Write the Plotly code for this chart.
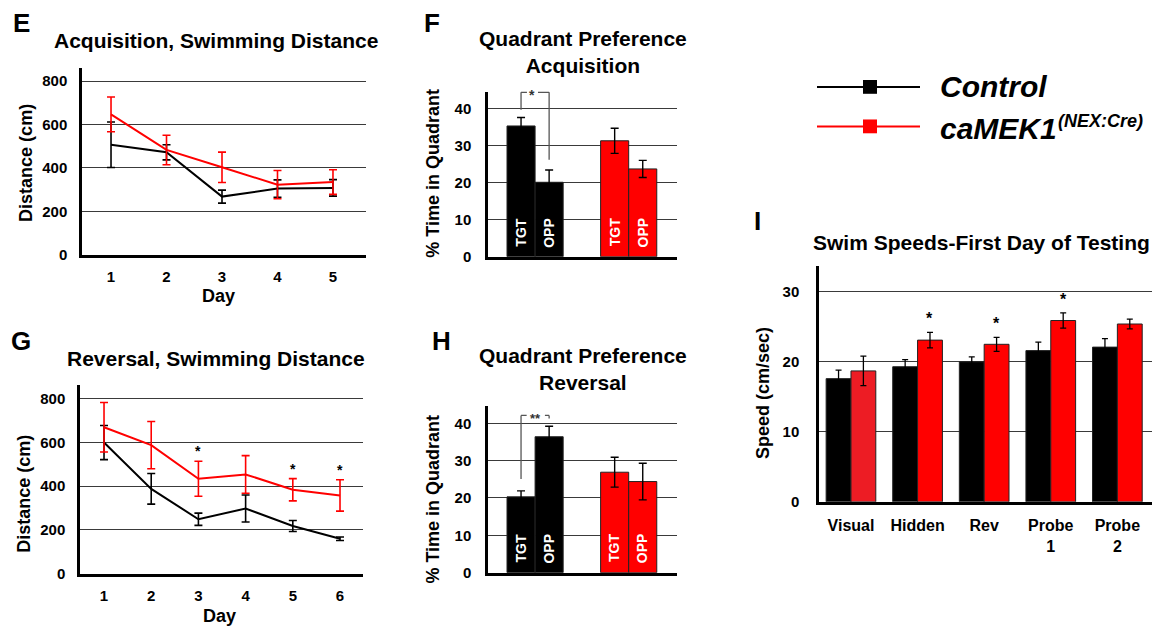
import plotly.graph_objects as go

# ---------------- data ----------------
# Panel E: Acquisition, swimming distance (cm)
acq_days = [1, 2, 3, 4, 5]
acq_ctrl = [507, 472, 268, 305, 308]
acq_ctrl_err = [105, 35, 30, 40, 38]
acq_mek = [647, 483, 403, 323, 335]
acq_mek_err = [80, 68, 70, 65, 57]

# Panel G: Reversal, swimming distance (cm)
rev_days = [1, 2, 3, 4, 5, 6]
rev_ctrl = [600, 388, 249, 298, 218, 160]
rev_ctrl_err = [78, 70, 28, 62, 25, 8]
rev_mek = [670, 588, 434, 454, 384, 358]
rev_mek_err = [113, 108, 80, 86, 51, 72]
rev_sig_days = [3, 5, 6]

# Panels F / H: quadrant preference (% time)
genotypes = ["Control", "caMEK1"]
quad_labels = ["TGT", "OPP"]
acq_tgt = [35.3, 31.3]
acq_tgt_err = [2.3, 3.4]
acq_opp = [20.1, 23.7]
acq_opp_err = [3.3, 2.3]
revq_tgt = [20.3, 26.9]
revq_tgt_err = [1.6, 4.0]
revq_opp = [36.4, 24.4]
revq_opp_err = [2.8, 4.9]

# Panel I: swim speeds (cm/sec)
speed_cats = ["Visual", "Hidden", "Rev", "Probe<br>1", "Probe<br>2"]
speed_ctrl = [17.6, 19.3, 20.0, 21.6, 22.1]
speed_ctrl_err = [1.2, 1.0, 0.7, 1.2, 1.2]
speed_mek = [18.7, 23.1, 22.5, 25.9, 25.4]
speed_mek_err = [2.1, 1.1, 1.0, 1.1, 0.7]
speed_sig = [False, True, True, True, False]

# ---------------- style ----------------
W, H = 1156, 632
FONT = "Liberation Sans, Arial, sans-serif"
BLACK = "#000000"
RED = "#FF0000"
RED2 = "#ED1C24"
GRID = "#3a3a3a"


def fx(px):
    return px / W


def fy(py):
    return 1 - py / H


fig = go.Figure()

# ---- E
fig.add_trace(go.Scatter(x=acq_days, y=acq_ctrl, mode="lines",
                         line=dict(color=BLACK, width=2),
                         error_y=dict(type="data", array=acq_ctrl_err, color=BLACK, thickness=1.6, width=4),
                         xaxis="x", yaxis="y", showlegend=False))
fig.add_trace(go.Scatter(x=acq_days, y=acq_mek, mode="lines",
                         line=dict(color=RED, width=2),
                         error_y=dict(type="data", array=acq_mek_err, color=RED, thickness=1.6, width=4),
                         xaxis="x", yaxis="y", showlegend=False))
# ---- G
fig.add_trace(go.Scatter(x=rev_days, y=rev_ctrl, mode="lines",
                         line=dict(color=BLACK, width=2),
                         error_y=dict(type="data", array=rev_ctrl_err, color=BLACK, thickness=1.6, width=4),
                         xaxis="x3", yaxis="y3", showlegend=False))
fig.add_trace(go.Scatter(x=rev_days, y=rev_mek, mode="lines",
                         line=dict(color=RED, width=2),
                         error_y=dict(type="data", array=rev_mek_err, color=RED, thickness=1.6, width=4),
                         xaxis="x3", yaxis="y3", showlegend=False))

# ---- F / H bars
QW = 0.3
geno_colors = [BLACK, RED]
for (tgt, tgt_e, opp, opp_e, xa, ya) in [
        (acq_tgt, acq_tgt_err, acq_opp, acq_opp_err, "x2", "y2"),
        (revq_tgt, revq_tgt_err, revq_opp, revq_opp_err, "x4", "y4")]:
    fig.add_trace(go.Bar(x=genotypes, y=tgt, width=QW, offset=-QW,
                         marker=dict(color=geno_colors, line=dict(color="#222", width=1)),
                         error_y=dict(type="data", array=tgt_e, color=BLACK, thickness=1.4, width=4),
                         xaxis=xa, yaxis=ya, showlegend=False))
    fig.add_trace(go.Bar(x=genotypes, y=opp, width=QW, offset=0,
                         marker=dict(color=geno_colors, line=dict(color="#222", width=1)),
                         error_y=dict(type="data", array=opp_e, color=BLACK, thickness=1.4, width=4),
                         xaxis=xa, yaxis=ya, showlegend=False))

# ---- I bars
BW = 0.373
fig.add_trace(go.Bar(x=speed_cats, y=speed_ctrl, width=BW, offset=-BW,
                     marker=dict(color=BLACK, line=dict(color="#222", width=1)),
                     error_y=dict(type="data", array=speed_ctrl_err, color=BLACK, thickness=1.3, width=3),
                     xaxis="x5", yaxis="y5", showlegend=False))
fig.add_trace(go.Bar(x=speed_cats, y=speed_mek, width=BW, offset=0,
                     marker=dict(color=[RED2] + [RED] * (len(speed_mek) - 1), line=dict(color="#222", width=1)),
                     error_y=dict(type="data", array=speed_mek_err, color=BLACK, thickness=1.3, width=3),
                     xaxis="x5", yaxis="y5", showlegend=False))

fig.update_layout(barmode="overlay")

tickfont = dict(family=FONT, size=15, color=BLACK, weight="bold")


def xax(left, right, rng, anchor, **kw):
    d = dict(domain=[fx(left), fx(right)], range=rng, anchor=anchor,
             showline=True, linecolor=BLACK, linewidth=2.5, showgrid=False,
             zeroline=False, ticks="", tickfont=tickfont, fixedrange=True)
    d.update(kw)
    return d


def yax(bottom, top, rng, anchor, dtick, **kw):
    d = dict(domain=[fy(bottom), fy(top)], range=rng, anchor=anchor,
             showline=True, linecolor=BLACK, linewidth=2.5, showgrid=True,
             gridcolor=GRID, gridwidth=1.2, zeroline=False, ticks="",
             dtick=dtick, tick0=0, tickfont=tickfont, ticklabelstandoff=9,
             fixedrange=True)
    d.update(kw)
    return d


fig.update_layout(
    xaxis=xax(82, 366, [0.477, 5.595], "y", tickvals=acq_days, ticklabelstandoff=7),
    yaxis=yax(258, 69, [0, 860], "x", 200),
    xaxis3=xax(80, 363, [0.491, 6.487], "y3", tickvals=rev_days, ticklabelstandoff=7),
    yaxis3=yax(581, 390, [0, 863], "x3", 200),
    xaxis2=xax(488, 677, [-0.503, 1.516], "y2", showticklabels=False, type="category"),
    yaxis2=yax(260, 92.7, [0, 44.6], "x2", 10, ticklabelstandoff=11),
    xaxis4=xax(488, 677, [-0.503, 1.516], "y4", showticklabels=False, type="category"),
    yaxis4=yax(580, 411.7, [0, 44.5], "x4", 10, ticklabelstandoff=11),
    xaxis5=xax(819, 1152, [-0.48, 4.52], "y5", type="category",
               tickfont=dict(family=FONT, size=16, color=BLACK, weight="bold"), ticklabelstandoff=7),
    yaxis5=yax(508.3, 269.3, [0, 33.7], "x5", 10, ticklabelstandoff=14),
)

annotations = []
shapes = []


def txt(x, y, text, size, xref="paper", yref="paper", xanchor="center", yanchor="middle",
        angle=0, color=BLACK, bold=True, italic=False, yshift=0):
    annotations.append(dict(x=x, y=y, xref=xref, yref=yref, text=text, showarrow=False,
                            xanchor=xanchor, yanchor=yanchor, textangle=angle, yshift=yshift,
                            font=dict(family=FONT, size=size, color=color,
                                      weight="bold" if bold else "normal",
                                      style="italic" if italic else "normal")))


# panel letters
for letter, px, py in [("E", 21, 23), ("F", 432, 23), ("G", 21, 345), ("H", 442, 345), ("I", 757, 224)]:
    txt(fx(px), fy(py), letter, 26)

# titles
txt(fx(216), fy(41), "Acquisition, Swimming Distance", 21)
txt(fx(216), fy(363), "Reversal, Swimming Distance", 21)
txt(fx(583), fy(53), "Quadrant Preference<br>Acquisition", 21)
txt(fx(583), fy(374), "Quadrant Preference<br>Reversal", 21)
txt(fx(981), fy(246), "Swim Speeds-First Day of Testing", 21)

# axis titles
txt(fx(26), fy(165), "Distance (cm)", 18, angle=-90)
txt(fx(218), fy(300), "Day", 18)
txt(fx(24), fy(500), "Distance (cm)", 18, angle=-90)
txt(fx(219), fy(624), "Day", 18)
txt(fx(433), fy(176), "% Time in Quadrant", 18, angle=-90)
txt(fx(433), fy(506), "% Time in Quadrant", 18, angle=-90)
txt(fx(763), fy(398), "Speed (cm/sec)", 18, angle=-90)

# TGT / OPP labels inside bars
for xa, ya in [("x2", "y2"), ("x4", "y4")]:
    for gi in range(len(genotypes)):
        for qi, lab in enumerate(quad_labels):
            txt(gi - QW / 2 + qi * QW, 6.5, lab, 14, xref=xa, yref=ya, angle=-90, color="white")

# significance stars, panel G
for d in rev_sig_days:
    i = rev_days.index(d)
    txt(d, rev_mek[i] + rev_mek_err[i], "*", 14, xref="x3", yref="y3", yanchor="bottom")

# significance stars, panel I
for i, s in enumerate(speed_sig):
    if s:
        txt(i + BW / 2, speed_mek[i] + speed_mek_err[i], "*", 16, xref="x5", yref="y5",
            yanchor="bottom", yshift=3)


# brackets on F and H
def bracket(xa, ya, y_left, y_right, y_top, x_gap_l, x_gap_r, star, star_size):
    xl, xr = -QW / 2, QW / 2
    sty = dict(color="#555", width=1.3)
    shapes.append(dict(type="line", xref=xa, yref=ya, x0=xl, x1=xl, y0=y_left, y1=y_top, line=sty))
    shapes.append(dict(type="line", xref=xa, yref=ya, x0=xl, x1=x_gap_l, y0=y_top, y1=y_top, line=sty))
    shapes.append(dict(type="line", xref=xa, yref=ya, x0=x_gap_r, x1=xr, y0=y_top, y1=y_top, line=sty))
    shapes.append(dict(type="line", xref=xa, yref=ya, x0=xr, x1=xr, y0=y_right, y1=y_top, line=sty))
    txt((x_gap_l + x_gap_r) / 2, y_top, star, star_size, xref=xa, yref=ya, yshift=-3, color="#333")


bracket("x2", "y2", acq_tgt[0] + acq_tgt_err[0] + 2.1, acq_opp[0] + acq_opp_err[0] + 2.8, 44.4,
        -0.087, 0.031, "*", 14)
bracket("x4", "y4", revq_tgt[0] + revq_tgt_err[0] + 3.2, revq_opp[0] + revq_opp_err[0] + 2.1, 42.1,
        -0.09, 0.105, "**", 13)

# legend (drawn by hand)
for py, col, label in [(88, BLACK, "Control"), (128, RED, "caMEK1")]:
    shapes.append(dict(type="line", xref="paper", yref="paper", x0=fx(817), x1=fx(920),
                       y0=fy(py), y1=fy(py), line=dict(color=col, width=2)))
    shapes.append(dict(type="rect", xref="paper", yref="paper", x0=fx(863), x1=fx(877),
                       y0=fy(py + 7), y1=fy(py - 7), line=dict(width=0), fillcolor=col))
txt(fx(938), fy(88), "Control", 30, xanchor="left", italic=True)
txt(fx(938), fy(130), "caMEK1", 30, xanchor="left", italic=True)
txt(fx(1056), fy(123), "(NEX:Cre)", 18, xanchor="left", italic=True)

fig.update_layout(
    width=W, height=H, margin=dict(l=0, r=0, t=0, b=0),
    paper_bgcolor="white", plot_bgcolor="white",
    annotations=annotations, shapes=shapes, showlegend=False,
    font=dict(family=FONT, color=BLACK),
)

fig.write_html("out.html", config={"displayModeBar": False},
               post_script="document.body.style.margin='0';document.body.style.padding='0';"
                           "document.body.style.overflow='hidden';")
